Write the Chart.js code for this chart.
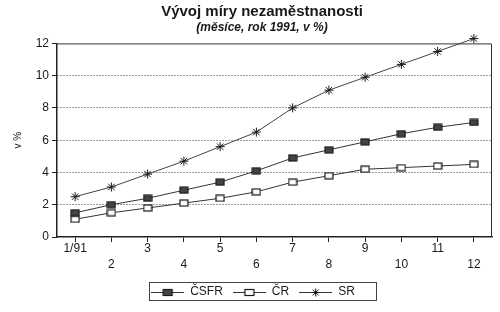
<!DOCTYPE html>
<html>
<head>
<meta charset="utf-8">
<script src="https://cdn.jsdelivr.net/npm/chart.js@4"></script>
<style>
html,body{margin:0;padding:0;background:#fff;}
#wrap{width:500px;height:312px;}
</style>
</head>
<body>
<div id="wrap"><canvas id="c" width="500" height="312"></canvas></div>
<script>
// ---- data ----
const months = ['1/91','2','3','4','5','6','7','8','9','10','11','12'];
const csfr = [1.5, 2.0, 2.4, 2.9, 3.4, 4.1, 4.9, 5.4, 5.9, 6.4, 6.8, 7.1];
const cr   = [1.1, 1.5, 1.8, 2.1, 2.4, 2.8, 3.4, 3.8, 4.2, 4.3, 4.4, 4.5];
const sr   = [2.5, 3.1, 3.9, 4.7, 5.6, 6.5, 8.0, 9.1, 9.9, 10.7, 11.5, 12.3];
const seriesNames = ['ČSFR', 'ČR', 'SR'];
const yTicks = [0, 2, 4, 6, 8, 10, 12];

const FONT = '"Liberation Sans", Arial, sans-serif';
const INK = '#1a1a1a';

function rectMarker(fill) {
  const c = document.createElement('canvas');
  c.width = 10; c.height = 8;
  const g = c.getContext('2d');
  g.fillStyle = fill; g.fillRect(1, 1, 8, 6);
  g.strokeStyle = INK; g.lineWidth = 1.2; g.strokeRect(1, 1, 8, 6);
  return c;
}
function legendMarker(kind) {
  const W = 33;
  const c = document.createElement('canvas');
  c.width = W; c.height = 10;
  const g = c.getContext('2d');
  const m = W / 2;
  g.strokeStyle = '#333'; g.lineWidth = 1;
  g.beginPath(); g.moveTo(0, 5.5); g.lineTo(W, 5.5); g.stroke();
  if (kind === 'star') {
    g.strokeStyle = INK;
    g.beginPath();
    g.moveTo(m - 4, 5.5); g.lineTo(m + 4, 5.5);
    g.moveTo(m, 1.5); g.lineTo(m, 9.5);
    g.moveTo(m - 3, 2.5); g.lineTo(m + 3, 8.5);
    g.moveTo(m + 3, 2.5); g.lineTo(m - 3, 8.5);
    g.stroke();
  } else {
    g.fillStyle = kind === 'filled' ? '#444' : '#fff';
    g.fillRect(m - 4.5, 2.5, 9, 6);
    g.strokeStyle = INK; g.lineWidth = 1.2; g.strokeRect(m - 4.5, 2.5, 9, 6);
  }
  return c;
}

const legendIcons = [legendMarker('filled'), legendMarker('hollow'), legendMarker('star')];

const shiftPlugin = {
  id: 'shiftBoxes',
  afterLayout(chart) {
    const title = chart.boxes.find(b => b.options && b.options.text === 'Vývoj míry nezaměstnanosti');
    const sub = chart.boxes.find(b => b.options && b.options.text === '(měsíce, rok 1991, v %)');
    [title, sub].forEach(b => { if (b) { b.left += 16; b.right += 16; } });
    const lg = chart.legend;
    if (lg) { lg.left += 7; lg.right += 7; }
  }
};

const framePlugin = {
  id: 'frame',
  afterDraw(chart) {
    const a = chart.chartArea, ctx = chart.ctx;
    ctx.save();
    ctx.strokeStyle = '#333';
    ctx.lineWidth = 1;
    ctx.beginPath();
    ctx.moveTo(a.left, a.top + 0.5); ctx.lineTo(a.right - 0.5, a.top + 0.5); ctx.lineTo(a.right - 0.5, a.bottom);
    ctx.stroke();
    const lg = chart.legend;
    if (lg && lg.legendHitBoxes && lg.legendHitBoxes.length) {
      const hb = lg.legendHitBoxes;
      const l = Math.min(...hb.map(h => h.left));
      const t = Math.min(...hb.map(h => h.top));
      const b = Math.max(...hb.map(h => h.top + h.height));
      ctx.strokeStyle = '#444';
      ctx.strokeRect(Math.round(l) - 1.5, Math.round(t) - 3.5, 227, Math.round(b - t) + 6);
    }
    ctx.restore();
  }
};

new Chart(document.getElementById('c'), {
  type: 'line',
  data: {
    labels: months,
    datasets: [
      { label: seriesNames[0], data: csfr, borderColor: '#333', borderWidth: 1, pointStyle: rectMarker('#444'), pointRadius: 4, clip: false },
      { label: seriesNames[1], data: cr, borderColor: '#333', borderWidth: 1, pointStyle: rectMarker('#fff'), pointRadius: 4, clip: false },
      { label: seriesNames[2], data: sr, borderColor: '#444', borderWidth: 1, pointStyle: 'star', pointRadius: 4.5, pointBorderColor: INK, pointBorderWidth: 1, clip: false }
    ]
  },
  options: {
    responsive: false,
    animation: false,
    layout: { padding: { left: 0, right: 8, top: 0, bottom: 4 } },
    plugins: {
      title: {
        display: true, text: 'Vývoj míry nezaměstnanosti', color: INK,
        font: { family: FONT, size: 15, weight: 'bold', lineHeight: 1 },
        padding: { top: 4, bottom: 0 }
      },
      subtitle: {
        display: true, text: '(měsíce, rok 1991, v %)', color: INK,
        font: { family: FONT, size: 12, weight: 'bold', style: 'italic', lineHeight: 1.2 },
        padding: { top: 1, bottom: 9 }
      },
      legend: {
        position: 'bottom',
        labels: {
          usePointStyle: true,
          pointStyleWidth: 33,
          padding: 10,
          color: INK,
          font: { family: FONT, size: 12 },
          generateLabels(chart) {
            return chart.data.datasets.map((ds, i) => ({
              text: ds.label, pointStyle: legendIcons[i], datasetIndex: i,
              fillStyle: '#fff', strokeStyle: '#333', lineWidth: 0, fontColor: INK, hidden: false
            }));
          }
        }
      },
      tooltip: { enabled: false }
    },
    scales: {
      x: {
        offset: true,
        afterFit(s) { s.height += 4; },
        grid: { display: true, drawOnChartArea: false, tickLength: 5, color: '#222', offset: false },
        border: { display: true, color: '#222', width: 1.5 },
        ticks: {
          color: INK, padding: -1, maxRotation: 0, autoSkip: false,
          font: { family: FONT, size: 12, lineHeight: 1.3333 },
          callback: (v, i) => (i % 2 ? ['', months[i]] : months[i])
        }
      },
      y: {
        min: 0, max: 12,
        afterFit(s) { s.width = 57; },
        afterBuildTicks(s) { s.ticks = yTicks.map(v => ({ value: v })); },
        grid: {
          tickLength: 5,
          color: (c) => (c.tick && (c.tick.value === 0 || c.tick.value === 12)) ? 'rgba(0,0,0,0)' : '#333',
          tickColor: '#222',
          tickBorderDash: [],
          lineWidth: 1
        },
        border: { display: true, color: '#222', width: 1.5, dash: [1, 2] },
        ticks: { color: INK, padding: 3, font: { family: FONT, size: 12 } },
        title: {
          display: true, text: 'v %', color: INK,
          font: { family: FONT, size: 10 },
          padding: { top: 12, bottom: 0 }
        }
      }
    }
  },
  plugins: [shiftPlugin, framePlugin]
});
</script>
</body>
</html>
